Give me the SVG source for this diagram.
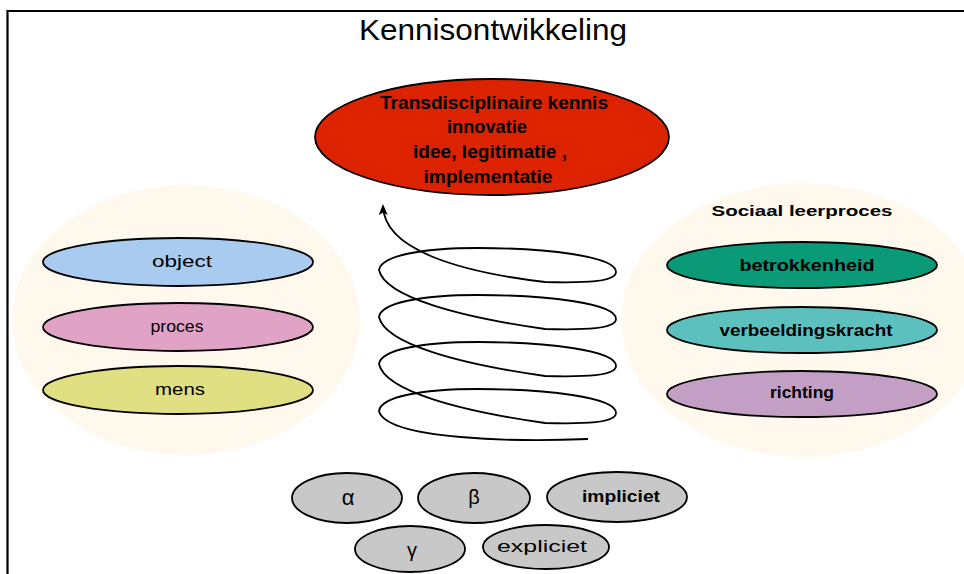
<svg xmlns="http://www.w3.org/2000/svg" width="964" height="574" viewBox="0 0 964 574">
  <style>
    text { font-family: "Liberation Sans", Arial, sans-serif; fill: #000; text-anchor: middle; dominant-baseline: central; }
    .frame { stroke: #000; stroke-width: 2.2; fill: none; }
    .halo { fill: #FEF9EC; }
    .node { stroke: #000; stroke-width: 1.8; }
    .lbl { font-size: 17px; }
    .lblb { font-size: 17px; font-weight: bold; }
    .core { font-size: 18px; font-weight: bold; }
    .grey { fill: #C8C8C8; }
    .spiral { fill: none; stroke: #000; stroke-width: 1.8; stroke-linejoin: round; }
  </style>
  <defs>
    <marker id="tip" markerWidth="11" markerHeight="9" refX="9" refY="4.5" orient="auto" markerUnits="userSpaceOnUse" viewBox="0 0 11 9">
      <path d="M0,0 L11,4.5 L0,9 L2.5,4.5 Z" fill="#000"/>
    </marker>
  </defs>

  <rect width="964" height="574" fill="#fff"/>
  <!-- page frame: left and top rules -->
  <path class="frame" d="M7.5,10 V574 M6.5,11 H964"/>

  <text id="title" x="493" y="30" font-size="29" textLength="268" lengthAdjust="spacingAndGlyphs">Kennisontwikkeling</text>

  <!-- soft background discs behind the two groups -->
  <ellipse class="halo" cx="186" cy="320" rx="174" ry="135"/>
  <ellipse class="halo" cx="803" cy="320" rx="182" ry="137"/>

  <g id="kennis">
    <ellipse class="node" cx="492" cy="137" rx="177" ry="58" fill="#DD2200"/>
    <text class="core" x="494" y="103" textLength="228" lengthAdjust="spacingAndGlyphs">Transdisciplinaire kennis</text>
    <text class="core" x="487" y="127" textLength="80" lengthAdjust="spacingAndGlyphs">innovatie</text>
    <text class="core" x="490" y="152" textLength="154" lengthAdjust="spacingAndGlyphs">idee, legitimatie ,</text>
    <text class="core" x="488" y="177" textLength="129" lengthAdjust="spacingAndGlyphs">implementatie</text>
  </g>

  <g id="object">
    <ellipse class="node" cx="178" cy="262" rx="135" ry="24" fill="#A9CBEF"/>
    <text class="lbl" x="182" y="261" textLength="60" lengthAdjust="spacingAndGlyphs">object</text>
  </g>
  <g id="proces">
    <ellipse class="node" cx="178" cy="327" rx="135" ry="24" fill="#E0A3C6"/>
    <text class="lbl" x="177" y="326" textLength="53" lengthAdjust="spacingAndGlyphs">proces</text>
  </g>
  <g id="mens">
    <ellipse class="node" cx="178" cy="390" rx="135" ry="24" fill="#E0DF82"/>
    <text class="lbl" x="180" y="389" textLength="50" lengthAdjust="spacingAndGlyphs">mens</text>
  </g>

  <g id="sociaal-leerproces">
    <text x="802" y="210" font-size="15" font-weight="bold" fill="#222" textLength="181" lengthAdjust="spacingAndGlyphs">Sociaal leerproces</text>
  </g>
  <g id="betrokkenheid">
    <ellipse class="node" cx="802" cy="265" rx="135" ry="23" fill="#0A9A78"/>
    <text class="lblb" x="807" y="265" textLength="135" lengthAdjust="spacingAndGlyphs">betrokkenheid</text>
  </g>
  <g id="verbeeldingskracht">
    <ellipse class="node" cx="802" cy="330" rx="135" ry="23" fill="#5BC0BE"/>
    <text class="lblb" x="806" y="330" textLength="173" lengthAdjust="spacingAndGlyphs">verbeeldingskracht</text>
  </g>
  <g id="richting">
    <ellipse class="node" cx="802" cy="394" rx="135" ry="23" fill="#C39FC5"/>
    <text class="lblb" x="802" y="392" textLength="64" lengthAdjust="spacingAndGlyphs">richting</text>
  </g>

  <g id="alpha">
    <ellipse class="node grey" cx="347" cy="498" rx="55" ry="25"/>
    <text x="348" y="497" font-size="22">α</text>
  </g>
  <g id="beta">
    <ellipse class="node grey" cx="474" cy="498" rx="56" ry="25"/>
    <text x="474" y="497" font-size="20">β</text>
  </g>
  <g id="impliciet">
    <ellipse class="node grey" cx="617" cy="497" rx="70" ry="25"/>
    <text class="lblb" x="621" y="496" textLength="78" lengthAdjust="spacingAndGlyphs">impliciet</text>
  </g>
  <g id="gamma">
    <ellipse class="node grey" cx="410" cy="549" rx="55" ry="23"/>
    <text x="412" y="550" font-size="20">γ</text>
  </g>
  <g id="expliciet">
    <ellipse class="node grey" cx="546" cy="547" rx="63" ry="22"/>
    <text class="lbl" x="542" y="546" textLength="90" lengthAdjust="spacingAndGlyphs">expliciet</text>
  </g>

  <g id="connectors">
    <!-- rising helix ending in an arrow under the knowledge node -->
    <path class="spiral" marker-end="url(#tip)" d="M588,439 C520,442 386,440 379,411
      C381,397 420,389 478,389 C545,389 616,397 616,413
      C616,423 585,424 545,423 C460,411 385,391 379,364
      C381,350 420,342 478,342 C545,342 616,350 616,366
      C616,376 585,377 545,376 C460,364 385,344 379,317
      C381,303 420,295 478,295 C545,295 616,303 616,319
      C616,329 585,330 545,329 C460,317 385,297 379,270
      C381,256 420,248 478,248 C545,248 616,256 616,272
      C616,282 585,283 545,282 C460,272 384,250 383,206"/>
  </g>
</svg>
